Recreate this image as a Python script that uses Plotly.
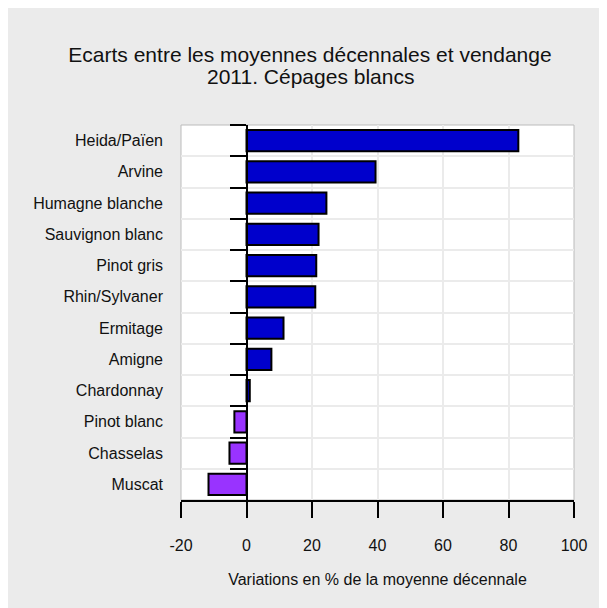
import plotly.graph_objects as go

categories = ["Heida/Païen", "Arvine", "Humagne blanche", "Sauvignon blanc", "Pinot gris",
              "Rhin/Sylvaner", "Ermitage", "Amigne", "Chardonnay", "Pinot blanc",
              "Chasselas", "Muscat"]
values = [83.0, 39.4, 24.4, 22.0, 21.3, 21.0, 11.3, 7.6, 1.0, -3.7, -5.2, -11.6]
pos_color = "#0000CC"
neg_color = "#9933FF"
x_ticks = [-20, 0, 20, 40, 60, 80, 100]
x_tick_labels = ["-20", "0", "20", "40", "60", "80", "100"]

colors = [pos_color if v >= 0 else neg_color for v in values]
x_min, x_max = -20, 100
n = len(categories)
cat_range = [n - 0.5, -0.5]

ML, MR, MT, MB = 173, 41, 117, 116
W, H = 607, 608
plot_w = W - ML - MR
plot_h = H - MT - MB

fig = go.Figure()
fig.add_trace(go.Bar(
    y=categories, x=values, orientation="h",
    marker=dict(color=colors, line=dict(color="black", width=2)),
    width=0.68, hoverinfo="x+y",
))
# helper trace for the axis drawn at x = 0 (boundary tick marks)
fig.add_trace(go.Scatter(
    y=categories, x=[0] * n, yaxis="y2", mode="markers",
    marker=dict(opacity=0), hoverinfo="skip", showlegend=False,
))

font_family = "Liberation Sans, Arial, sans-serif"
title_center = 302
fig.update_layout(
    width=W, height=H,
    paper_bgcolor="#EBEBEB", plot_bgcolor="white",
    margin=dict(l=ML, r=MR, t=MT, b=MB),
    showlegend=False,
    font=dict(family=font_family, color="#111111", size=16),
    title=dict(text="Ecarts entre les moyennes décennales et vendange",
               x=title_center / W, xref="container", xanchor="center",
               y=1 - 47 / H, yref="container", yanchor="middle",
               font=dict(size=21, color="#111111")),
    annotations=[dict(text="2011. Cépages blancs", showarrow=False,
                      xref="paper", yref="paper",
                      x=(title_center - ML) / plot_w, xanchor="center",
                      y=1 + (MT - 69) / plot_h, yanchor="middle",
                      font=dict(size=21, color="#111111"))],
    xaxis=dict(range=[x_min, x_max], tickvals=x_ticks, ticktext=x_tick_labels,
               ticks="outside", ticklen=16,
               tickwidth=2, tickcolor="black", showline=True, linecolor="black",
               linewidth=2, showgrid=True, gridcolor="#EBEBEB", gridwidth=2,
               zeroline=False, domain=[0, 1], ticklabelstandoff=14,
               title=dict(text="Variations en % de la moyenne décennale",
                          font=dict(size=16), standoff=21),
               tickfont=dict(size=16)),
    yaxis=dict(categoryorder="array", categoryarray=categories, range=cat_range,
               showline=False, ticks="", showgrid=False, zeroline=False,
               ticklabelstandoff=17, tickfont=dict(size=16)),
    yaxis2=dict(categoryorder="array", categoryarray=categories, range=cat_range,
                overlaying="y", anchor="free",
                position=(0 - x_min) / (x_max - x_min), side="left",
                showline=True, linecolor="black", linewidth=2,
                tickson="boundaries", ticks="outside", ticklen=16, tickwidth=2,
                tickcolor="black", showgrid=True, gridcolor="#EBEBEB", gridwidth=2,
                showticklabels=False, zeroline=False),
    shapes=[dict(type="rect", xref="paper", yref="paper", x0=0, x1=1, y0=0, y1=1,
                 line=dict(color="#BBBBBB", width=1), layer="below")],
)

fig.write_html("out.html")
